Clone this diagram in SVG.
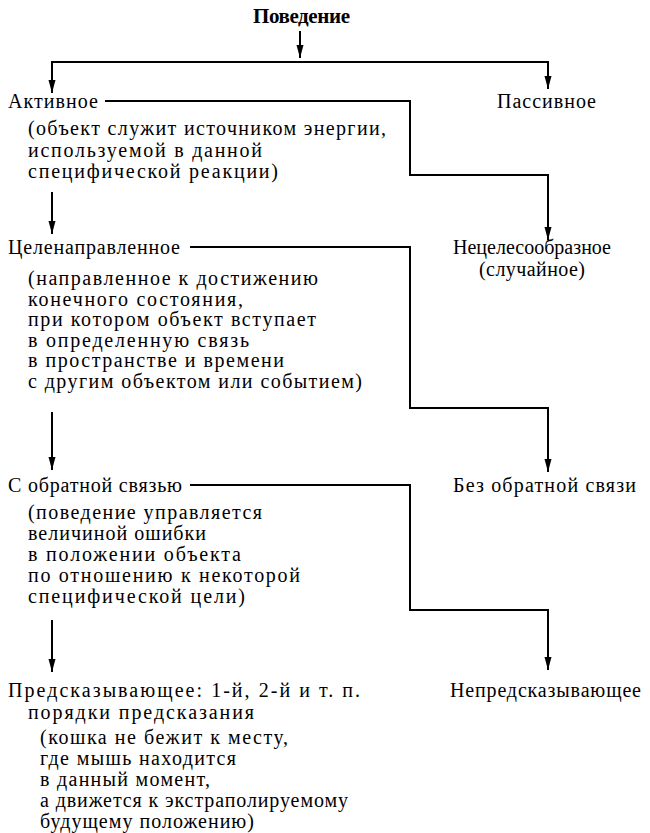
<svg xmlns="http://www.w3.org/2000/svg" width="650" height="833" viewBox="0 0 650 833">
<style>
text{font-family:"Liberation Serif","Times New Roman",serif;font-size:20px;fill:#000}
.b{font-weight:bold;font-size:21px}
.ln{fill:none;stroke:#000;stroke-width:2}
.ah{fill:#000}
</style>
<rect width="650" height="833" fill="#fff"/>
<g id="connectors">
<path class="ln" d="M300,31 V58"/>
<path class="ah" d="M296.5,45 L300,58 L303.5,45 Z"/>
<path class="ln" d="M52,93 V62 H548 V89"/>
<path class="ah" d="M48.5,80 L52,93 L55.5,80 Z"/>
<path class="ah" d="M544.5,76 L548,89 L551.5,76 Z"/>
<path class="ln" d="M105,101 H410 V175 H548 V240"/>
<path class="ah" d="M544.5,227 L548,240 L551.5,227 Z"/>
<path class="ln" d="M52,192 V234"/>
<path class="ah" d="M48.5,221 L52,234 L55.5,221 Z"/>
<path class="ln" d="M190,247 H410 V408 H548 V472"/>
<path class="ah" d="M544.5,459 L548,472 L551.5,459 Z"/>
<path class="ln" d="M52,412 V470"/>
<path class="ah" d="M48.5,457 L52,470 L55.5,457 Z"/>
<path class="ln" d="M190,485 H410 V610 H548 V670"/>
<path class="ah" d="M544.5,657 L548,670 L551.5,657 Z"/>
<path class="ln" d="M52,620 V672"/>
<path class="ah" d="M48.5,659 L52,672 L55.5,659 Z"/>
</g>
<g id="root"><text class="b" x="253" y="23" textLength="97">Поведение</text></g>
<g id="active">
<text x="8" y="108" textLength="90">Активное</text>
<text x="28" y="135" textLength="358">(объект служит источником энергии,</text>
<text x="28" y="156.5" textLength="234">используемой в данной</text>
<text x="28" y="178" textLength="250">специфической реакции)</text>
</g>
<g id="passive"><text x="497" y="108" textLength="99">Пассивное</text></g>
<g id="purposeful">
<text x="8" y="254" textLength="172">Целенаправленное</text>
<text x="28" y="285" textLength="290">(направленное к достижению</text>
<text x="28" y="305.6" textLength="215">конечного состояния,</text>
<text x="28" y="326.2" textLength="288">при котором объект вступает</text>
<text x="28" y="346.8" textLength="221">в определенную связь</text>
<text x="28" y="367.4" textLength="256">в пространстве и времени</text>
<text x="28" y="388" textLength="334">с другим объектом или событием)</text>
</g>
<g id="random">
<text x="453" y="254" textLength="158">Нецелесообразное</text>
<text x="479" y="276" textLength="106">(случайное)</text>
</g>
<g id="feedback">
<text x="8" y="492" textLength="174">С обратной связью</text>
<text x="28" y="519" textLength="234">(поведение управляется</text>
<text x="28" y="540" textLength="178">величиной ошибки</text>
<text x="28" y="561" textLength="213">в положении объекта</text>
<text x="28" y="582" textLength="272">по отношению к некоторой</text>
<text x="28" y="603" textLength="217">специфической цели)</text>
</g>
<g id="nofeedback"><text x="453" y="492" textLength="183">Без обратной связи</text></g>
<g id="predictive">
<text x="8" y="697" textLength="352">Предсказывающее: 1-й, 2-й и т. п.</text>
<text x="28" y="719" textLength="226">порядки предсказания</text>
<text x="40" y="744" textLength="248">(кошка не бежит к месту,</text>
<text x="40" y="765" textLength="196">где мышь находится</text>
<text x="40" y="786" textLength="170">в данный момент,</text>
<text x="40" y="807" textLength="308">а движется к экстраполируемому</text>
<text x="40" y="828" textLength="214">будущему положению)</text>
</g>
<g id="nonpredictive"><text x="450" y="697" textLength="191">Непредсказывающее</text></g>
</svg>
